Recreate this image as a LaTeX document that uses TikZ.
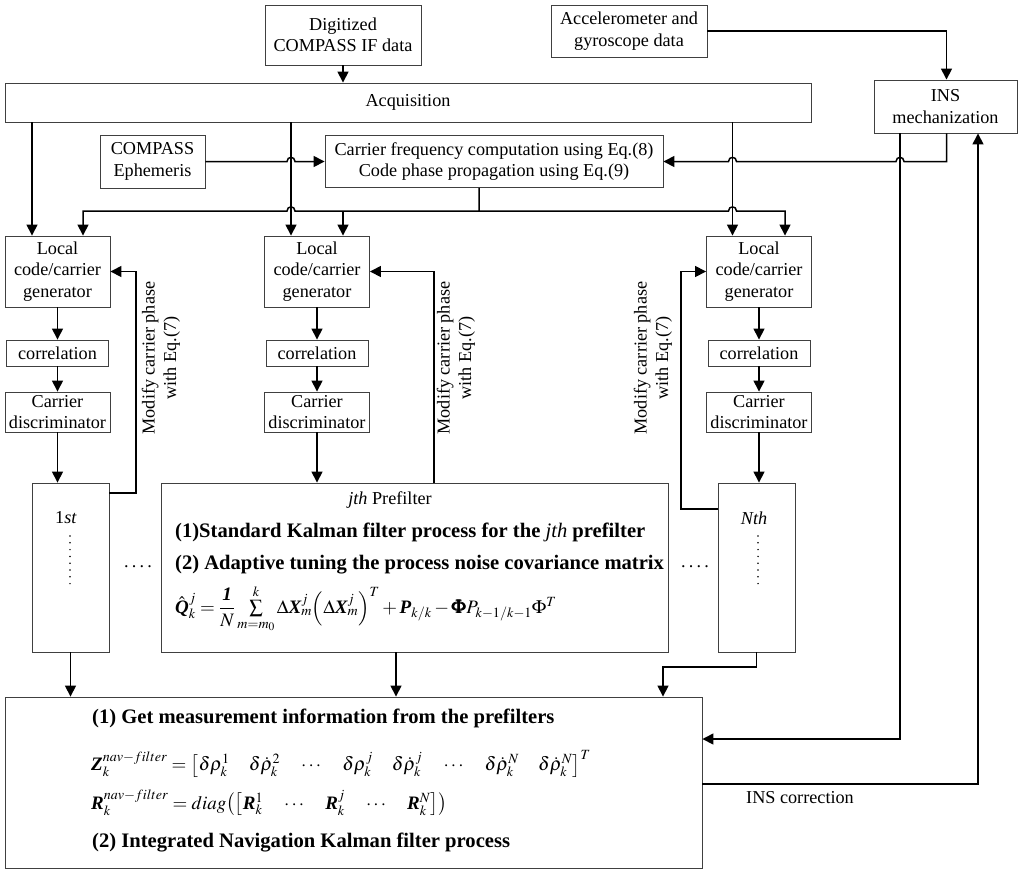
\documentclass[tikz,border=0pt]{standalone}
\usepackage{amsmath}
\usepackage{mathptmx}
\usepackage{fontspec}
\setmainfont{Liberation Serif}
\usetikzlibrary{arrows.meta}
\newcommand\nf{\fontsize{18.2}{21.5}\selectfont}
\newcommand\bfnt{\fontsize{20.6}{24}\selectfont\bfseries}
\newcommand\mfnt{\fontsize{19}{23}\selectfont}
\newcommand\qfnt{\fontsize{19}{23}\selectfont}
\newcommand\bv[1]{\text{\normalfont\bfseries\itshape #1}}
\def\hopr#1#2{-- (#1-4,#2) .. controls (#1-4,#2-5.5) and (#1+4,#2-5.5) .. (#1+4,#2)}
\def\hopl#1#2{-- (#1+4,#2) .. controls (#1+4,#2-5.5) and (#1-4,#2-5.5) .. (#1-4,#2)}
\begin{document}
\begin{tikzpicture}[x=1pt,y=-1pt,
  box/.style={draw=black!75, line width=0.9pt, inner sep=0pt, align=center, font=\nf},
  conn/.style={line width=1.5pt},
  arr/.style={conn, -{Triangle[length=11pt,width=11pt]}},
  lbl/.style={font=\nf, inner sep=0pt, align=center},
  btxt/.style={font=\bfnt, inner sep=0pt, anchor=west},
  mtxt/.style={font=\mfnt, inner sep=0pt, anchor=west}
]
\useasboundingbox (0,0) rectangle (1024,873);
% ---------- boxes ----------
\node[box, minimum width=156pt, minimum height=60pt] (dig) at (343,35) {Digitized\\COMPASS IF data};
\node[box, minimum width=156pt, minimum height=52pt] (acc) at (629,31) {Accelerometer and\\gyroscope data};
\node[box, minimum width=806pt, minimum height=39pt] (acq) at (408,102.5) {Acquisition};
\node[box, minimum width=143pt, minimum height=53pt] (ins) at (945.5,106.5) {INS\\mechanization};
\node[box, minimum width=105pt, minimum height=53pt] (eph) at (152.5,161.5) {COMPASS\\Ephemeris};
\node[box, minimum width=338pt, minimum height=52pt] (cfc) at (494,161.5) {Carrier frequency computation using Eq.(8)\\Code phase propagation using Eq.(9)};
\foreach \n/\x in {1/57.5,2/317,3/759}{
  \node[box, minimum width=105pt, minimum height=71pt] (lg\n) at (\x,271.5) {Local\\code/carrier\\generator};
  \node[box, minimum width=102pt, minimum height=26pt] (cor\n) at (\x,353) {correlation};
  \node[box, minimum width=105pt, minimum height=40pt] (dis\n) at (\x,412) {Carrier\\discriminator};
}
\node[box, minimum width=77pt, minimum height=169pt] (p1) at (70.5,567.5) {};
\node[box, minimum width=507pt, minimum height=169pt] (pj) at (414.5,567.5) {};
\node[box, minimum width=77pt, minimum height=169pt] (pN) at (756.5,567.5) {};
\node[box, minimum width=697pt, minimum height=171pt] (nav) at (353.5,782.5) {};
% ---------- texts inside prefilters ----------
\node[lbl] (t1) at (66,518) {1\textit{st}};
\node[lbl] (tN) at (754,518) {\textit{Nth}};
\draw[line width=1.7pt, line cap=round, dash pattern=on 0pt off 6.8pt] (70,536) -- (70,584);
\draw[line width=1.7pt, line cap=round, dash pattern=on 0pt off 6.8pt] (758,536) -- (758,584);
\node[lbl] (dd1) at (138,567) {.\hspace{3.2pt}.\hspace{3.2pt}.\hspace{3.2pt}.};
\node[lbl] (dd2) at (695,567) {.\hspace{3.2pt}.\hspace{3.2pt}.\hspace{3.2pt}.};
\node[lbl] (tj) at (390,500) {\textit{jth} Prefilter};
\node[btxt] (tj1) at (175,532) {(1)Standard Kalman filter process for the {\mdseries\itshape jth} prefilter};
\node[btxt] (tj2) at (175,565) {(2) Adaptive tuning the process noise covariance matrix};
\node[mtxt, font=\qfnt] (tj3) at (175,609) {$\hat{\bv{Q}}_k^{j} = \dfrac{\bv{1}}{N}\sum\limits_{m=m_0}^{k} \Delta\bv{X}_m^{j}\Bigl(\Delta\bv{X}_m^{j}\Bigr)^{T} + \bv{P}_{k/k} - \pmb{\Phi} P_{k-1/k-1}\Phi^{T}$};
% ---------- texts inside nav box ----------
\node[btxt] (n1) at (92,718) {(1) Get measurement information from the prefilters};
\node[mtxt] (n2) at (91,764) {$\bv{Z}_k^{nav-filter} = \bigl[\delta\rho_k^1 \quad \delta\dot\rho_k^2 \quad \cdots \quad \delta\rho_k^j \quad \delta\dot\rho_k^j \quad \cdots \quad \delta\dot\rho_k^N \quad \delta\dot\rho_k^N\bigr]^T$};
\node[mtxt] (n3) at (91,803) {$\bv{R}_k^{nav-filter} = diag\bigl(\bigl[\bv{R}_k^1 \quad\cdots\quad \bv{R}_k^j \quad\cdots\quad \bv{R}_k^N\bigr]\bigr)$};
\node[btxt] (n4) at (92,843) {(2) Integrated Navigation Kalman filter process};
% ---------- rotated labels ----------
\node[lbl, rotate=90] (m1) at (161,358) {Modify carrier phase\\with Eq.(7)};
\node[lbl, rotate=90] (m2) at (456,358) {Modify carrier phase\\with Eq.(7)};
\node[lbl, rotate=90] (m3) at (653,358) {Modify carrier phase\\with Eq.(7)};
\node[lbl] (corr) at (800,798) {INS correction};
% ---------- helper coordinates ----------
\coordinate (c1) at (32,0);
\coordinate (c2) at (83,0);
\coordinate (c3) at (291,0);
\coordinate (c4) at (343,0);
\coordinate (c5) at (479,0);
\coordinate (c6) at (732.5,0);
\coordinate (c7) at (785,0);
\coordinate (c8) at (900,0);
\coordinate (c9) at (946.5,0);
\coordinate (c10) at (978,0);
\coordinate (cj) at (396,0);
\coordinate (cn) at (663,0);
\coordinate (r1) at (0,161.5);
\coordinate (r2) at (0,211);
\coordinate (r3) at (0,739);
\coordinate (r4) at (0,784);
\coordinate (r5) at (0,667);
\coordinate (fb1) at (136,493);
\coordinate (fbj) at (434,0);
\coordinate (fbN) at (681,509);
% ---------- connectors ----------
\draw[arr] (dig.south) -- (acq.north -| dig.south);
\draw[arr] (acc.east) -| (ins.north -| c9);
\draw[arr] (acq.south -| c1) -- (lg1.north -| c1);
\draw[arr] (acq.south -| c3) -- (lg2.north -| c3);
\draw[arr] (acq.south -| c6) -- (lg3.north -| c6);
\draw[arr] (eph.east) \hopr{291}{161.5} -- (cfc.west);
\draw[arr] (ins.south -| c9) -- (c9 |- r1) \hopl{900}{161.5} \hopl{732.5}{161.5} -- (cfc.east |- r1);
\draw[arr] (cfc.south -| c5) -- (c5 |- r2) \hopl{291}{211} -| (lg1.north -| c2);
\draw[arr] (c5 |- r2) \hopr{732.5}{211} -| (lg3.north -| c7);
\draw[arr] (c4 |- r2) -- (lg2.north -| c4);
\foreach \n in {1,2,3}{
  \draw[arr] (lg\n.south) -- (cor\n.north);
  \draw[arr] (cor\n.south) -- (dis\n.north);
}
\draw[arr] (dis1.south) -- (dis1.south |- p1.north);
\draw[arr] (dis2.south) -- (dis2.south |- pj.north);
\draw[arr] (dis3.south) -- (dis3.south |- pN.north);
\draw[arr] (p1.east |- fb1) -| (fb1 |- lg1.east) -- (lg1.east);
\draw[arr] (pj.north -| fbj) |- (lg2.east);
\draw[arr] (pN.west |- fbN) -| (fbN |- lg3.west) -- (lg3.west);
\draw[arr] (p1.south) -- (nav.north -| p1.south);
\draw[arr] (pj.south -| cj) -- (nav.north -| cj);
\draw[arr] (pN.south) -- (pN.south |- r5) -| (nav.north -| cn);
\draw[arr] (ins.south -| c8) |- (nav.east |- r3);
\draw[arr] (nav.east |- r4) -| (ins.south -| c10);
\end{tikzpicture}
\end{document}
